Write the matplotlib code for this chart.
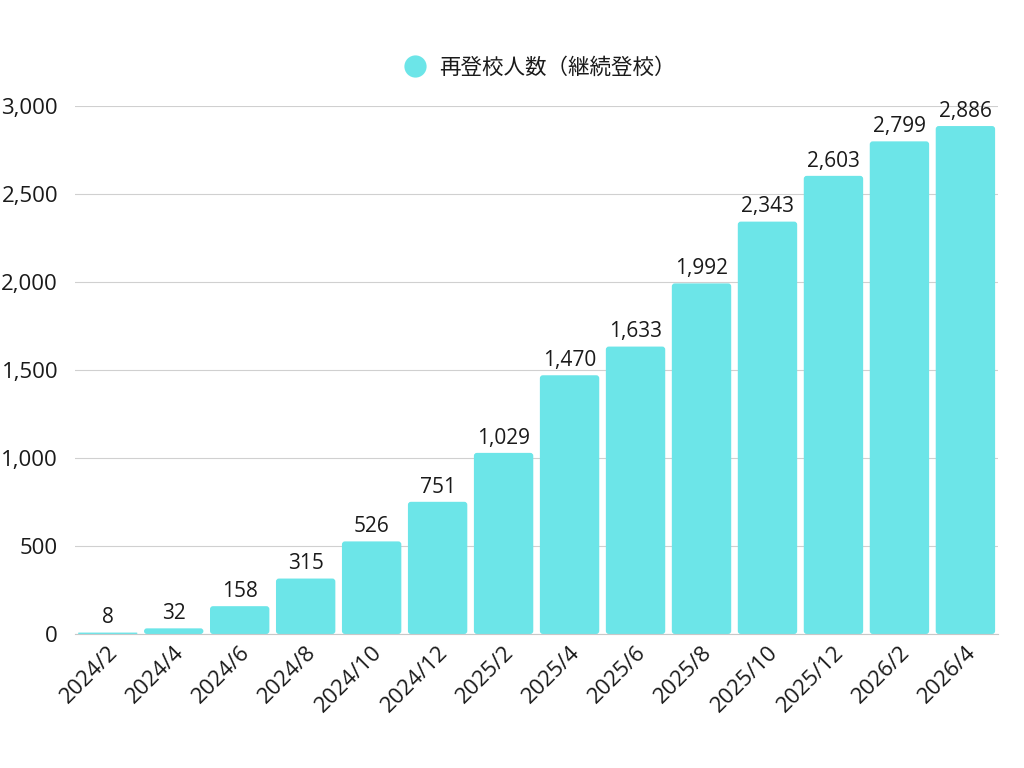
import matplotlib
matplotlib.use("Agg")
import matplotlib.pyplot as plt
from matplotlib.patches import FancyBboxPatch
from matplotlib.ticker import FuncFormatter, MultipleLocator

plt.rcParams['font.family'] = ['Open Sans', 'Noto Sans CJK JP', 'DejaVu Sans']

categories = ["2024/2", "2024/4", "2024/6", "2024/8", "2024/10", "2024/12",
              "2025/2", "2025/4", "2025/6", "2025/8", "2025/10", "2025/12",
              "2026/2", "2026/4"]
values = [8, 32, 158, 315, 526, 751, 1029, 1470, 1633, 1992, 2343, 2603, 2799, 2886]
series_name = "再登校人数（継続登校）"
color = "#6CE5E8"
text_color = "#1a1a1a"

fig = plt.figure(figsize=(10.24, 7.68), dpi=100)
ax = fig.add_axes([0.073, 0.1745, 0.902, 0.6875])

bars = ax.bar(range(len(categories)), values, width=0.9, color=color, label=series_name)
ax.set_xlim(-0.5, len(categories) - 0.5)
ax.set_ylim(0, 3000)

# rounded top corners
aspect = (3000 / 528) / (1 / 66.2)
for r in bars:
    x, y, w, h = r.get_x(), r.get_y(), r.get_width(), r.get_height()
    rs = min(0.045, (h / aspect) / 2)
    p = FancyBboxPatch((x, y), w, h, boxstyle=f"round,pad=0,rounding_size={rs}",
                       mutation_aspect=aspect, facecolor=color, edgecolor="none", zorder=2)
    ax.add_patch(p)
    r.set_visible(False)

for i, v in enumerate(values):
    ax.annotate(f"{v:,}", (i, v), xytext=(0, 3), textcoords="offset points",
                ha="center", va="bottom", fontsize=15, color=text_color)

ax.yaxis.set_major_locator(MultipleLocator(500))
ax.yaxis.set_major_formatter(FuncFormatter(lambda v, p: f"{int(v):,}"))
ax.grid(axis="y", color="#d0d0d0", linewidth=0.8, zorder=0)
ax.set_axisbelow(True)
for s in ["top", "right", "left"]:
    ax.spines[s].set_visible(False)
ax.spines["bottom"].set_color("#c8c8c8")
ax.tick_params(axis="both", length=0, labelsize=16, colors=text_color)
ax.tick_params(axis="y", pad=12)
ax.tick_params(axis="x", pad=6)
ax.set_xticks(range(len(categories)))
ax.set_xticklabels(categories, rotation=45, ha="right", rotation_mode="anchor")

handle = plt.Line2D([], [], marker="o", linestyle="none", markersize=16,
                    markerfacecolor=color, markeredgecolor="none")
fig.legend([handle], [series_name], loc="center", bbox_to_anchor=(0.522, 1 - 68 / 768),
           frameon=False, fontsize=15.5, handletextpad=0.1, labelcolor=text_color)

fig.savefig("out.png", dpi=100)
